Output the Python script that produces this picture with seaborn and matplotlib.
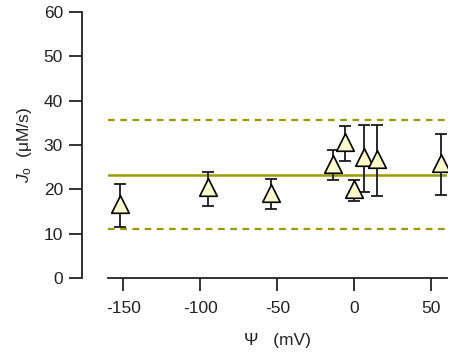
import numpy as np
import pandas as pd
import matplotlib
matplotlib.use("Agg")
import matplotlib.pyplot as plt
import seaborn as sns

# Data
psi_mv = [-152, -95, -54, -14, -6, 0, 6, 15, 56]
jo_mean = [16.7, 20.5, 19.1, 25.7, 30.6, 20.0, 27.2, 26.9, 26.0]
jo_upper = [21.2, 24.0, 22.3, 28.9, 34.2, 22.1, 34.4, 34.5, 32.5]
jo_lower = [11.4, 16.3, 15.5, 22.1, 26.5, 17.4, 19.5, 18.6, 18.7]

avg_line = 23.3
band_hi = 35.6
band_lo = 11.0

df = pd.DataFrame({"psi": psi_mv, "jo": jo_mean})
err_lo = np.array(jo_mean) - np.array(jo_lower)
err_hi = np.array(jo_upper) - np.array(jo_mean)

sns.set_style("ticks")
plt.rcParams["font.family"] = ["Liberation Sans", "DejaVu Sans"]
plt.rcParams["mathtext.fontset"] = "custom"
plt.rcParams["mathtext.rm"] = "Liberation Sans"
plt.rcParams["mathtext.it"] = "Liberation Sans:italic"
plt.rcParams["axes.unicode_minus"] = False

fig = plt.figure(figsize=(4.54, 3.53), dpi=100)
ax = fig.add_axes([0.238, 0.2125, 0.746, 0.7535])

olive = "#9c9a00"
ax.axhline(avg_line, color=olive, lw=1.8, zorder=1)
ax.axhline(band_hi, color=olive, lw=1.6, ls=(0, (3, 2.5)), zorder=1)
ax.axhline(band_lo, color=olive, lw=1.6, ls=(0, (3, 2.5)), zorder=1)

ax.errorbar(psi_mv, jo_mean, yerr=[err_lo, err_hi], fmt="none",
            ecolor="#1a1a1a", elinewidth=1.3, capsize=4, capthick=1.3, zorder=2)

sns.scatterplot(data=df, x="psi", y="jo", marker="^", s=160,
                color="#fdfccb", edgecolor="black", linewidth=1.2,
                zorder=3, ax=ax)

ax.set_xlim(-160, 60)
ax.set_ylim(0, 60)
ax.set_xticks([-150, -100, -50, 0, 50])
ax.set_yticks([0, 10, 20, 30, 40, 50, 60])

sns.despine(ax=ax)
ax.spines["left"].set_position(("outward", 19))
for s in ["left", "bottom"]:
    ax.spines[s].set_linewidth(1.3)
    ax.spines[s].set_color("#222222")
ax.tick_params(axis="both", length=9.5, width=1.3, color="#222222",
               labelsize=12.5, labelcolor="#222222")
ax.tick_params(axis="x", pad=7)
ax.tick_params(axis="y", pad=4)

ax.set_xlabel("Ψ   (mV)", fontsize=12.5, labelpad=12, color="#222222")
ax.set_ylabel(r"$J_{\mathrm{o}}$  (μM/s)", fontsize=12.5, labelpad=7, color="#222222")

fig.savefig("out.png", dpi=100)
